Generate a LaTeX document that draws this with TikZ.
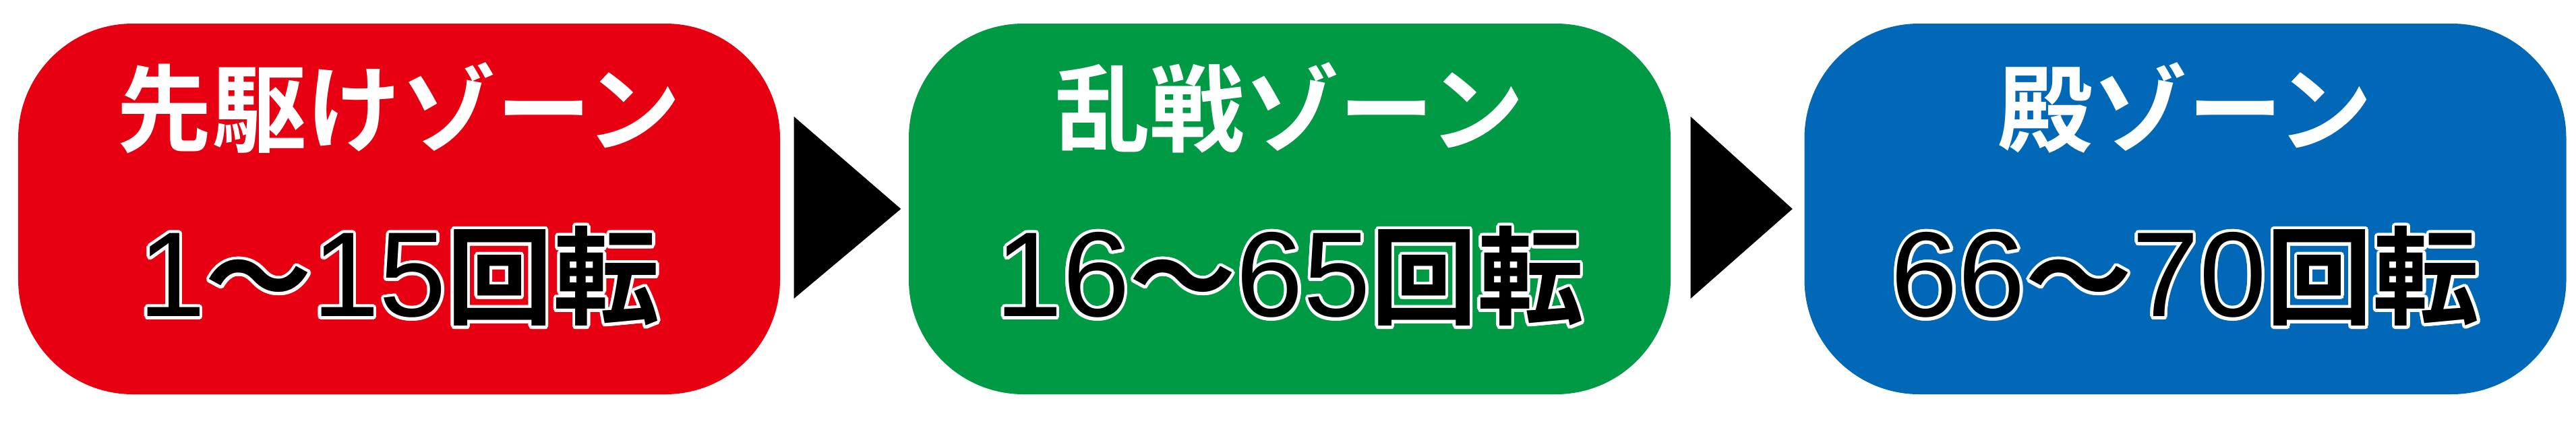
\documentclass[tikz,border=0pt]{standalone}
\usepackage{fontspec}
\usepackage{contour}
\newfontfamily\zonefont{Noto Sans CJK JP Bold}
\newfontfamily\digitfont{Liberation Sans}
\newcommand\countcjk{\zonefont\fontsize{45pt}{45pt}\selectfont}
\newcommand\countdig{\digitfont\fontsize{51pt}{51pt}\selectfont}
\contourlength{0.045cm}
\contournumber{16}
\definecolor{zred}{RGB}{230,0,18}
\definecolor{zgreen}{RGB}{0,153,68}
\definecolor{zblue}{RGB}{0,104,183}
\begin{document}
\begin{tikzpicture}[line join=round, line cap=round,
  zone/.style={fill=#1, rounded corners=1.7cm, minimum width=11.3cm, minimum height=5.5cm, inner sep=0pt},
  title/.style={text=white, font=\zonefont\fontsize{40pt}{40pt}\selectfont, inner sep=0pt},
  count/.style={text=black, inner sep=0pt}]
\useasboundingbox (0,0) rectangle (38.21,6.40);
\foreach \n/\c/\x/\t/\ka/\kb in {sakigake/zred/5.92/先駆けゾーン/1/15,
  ransen/zgreen/19.13/乱戦ゾーン/16/65,
  shingari/zblue/32.415/殿ゾーン/66/70}{
\node[zone=\c] (\n) at (\x,3.30) {};
\node[title] (\n-t) at ([yshift=1.50cm]\n.center) {\t};
\node[count] (\n-k) at ([yshift=-1.02cm]\n.center) {\contour{white}{\countdig\ka\countcjk ～\countdig\kb\countcjk 回転}};
}
\fill ([xshift=0.2cm,yshift=1.37cm]sakigake.east) -- ([xshift=0.2cm,yshift=-1.33cm]sakigake.east) -- ([xshift=-0.11cm]ransen.west) -- cycle;
\fill ([xshift=0.29cm,yshift=1.37cm]ransen.east) -- ([xshift=0.29cm,yshift=-1.33cm]ransen.east) -- ([xshift=-0.17cm]shingari.west) -- cycle;
\end{tikzpicture}
\end{document}
